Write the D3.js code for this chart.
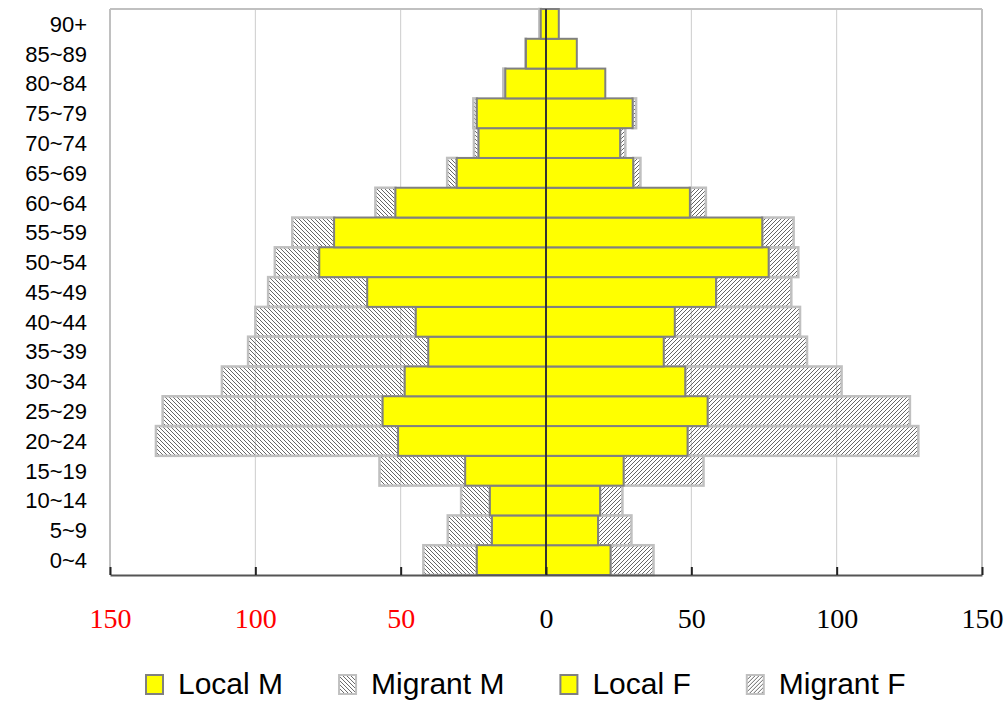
<!DOCTYPE html>
<html>
<head>
<meta charset="utf-8">
<script src="https://cdn.jsdelivr.net/npm/d3@7"></script>
<style>
  body { margin: 0; background: #fff; }
  svg { display: block; }
</style>
</head>
<body>
<div id="chart"></div>
<script>
// age groups, bottom to top
const ages = ["0~4", "5~9", "10~14", "15~19", "20~24", "25~29", "30~34", "35~39", "40~44",
              "45~49", "50~54", "55~59", "60~64", "65~69", "70~74", "75~79", "80~84", "85~89", "90+"];

const localM   = [23.8, 18.6, 19.3, 27.8, 50.9, 56.2, 48.6, 40.5, 44.8, 61.5, 78.0, 72.9, 51.8, 30.7, 23.2, 23.8, 14.0, 6.9, 1.8];
const migrantM = [18.4, 15.2,  9.9, 29.5, 83.3, 75.7, 62.9, 62.0, 55.2, 34.1, 15.3, 14.4,  6.9,  3.3,  1.6,  1.2,  0.7, 0.2, 0.5];
const localF   = [22.2, 17.9, 18.6, 26.7, 48.7, 55.6, 47.9, 40.5, 44.3, 58.5, 76.6, 74.4, 49.5, 30.0, 25.5, 29.8, 20.4, 10.6, 4.4];
const migrantF = [14.8, 11.5,  7.7, 27.5, 79.4, 69.6, 53.8, 49.3, 43.1, 25.9, 10.2, 10.8,  5.5,  2.5,  1.8,  1.2,  0.0, 0.0, 0.0];

const xTicks = [-150, -100, -50, 0, 50, 100, 150];
const legendNames = ["Local M", "Migrant M", "Local F", "Migrant F"];

const width = 1007, height = 702;
const plot = {left: 110, right: 982, top: 9, bottom: 575};

const svg = d3.select("#chart").append("svg")
    .attr("width", width)
    .attr("height", height);

// hatch patterns
const defs = svg.append("defs");
defs.append("pattern")
    .attr("id", "hatchM")
    .attr("patternUnits", "userSpaceOnUse")
    .attr("width", 4).attr("height", 4)
  .append("path")
    .attr("d", "M-1,-1 L5,5 M-1,3 L1,5 M3,-1 L5,1")
    .attr("stroke", "#555555")
    .attr("stroke-width", 0.9);
defs.append("pattern")
    .attr("id", "hatchF")
    .attr("patternUnits", "userSpaceOnUse")
    .attr("width", 4).attr("height", 4)
  .append("path")
    .attr("d", "M-1,5 L5,-1 M-1,1 L1,-1 M3,5 L5,3")
    .attr("stroke", "#555555")
    .attr("stroke-width", 0.9);

const x = d3.scaleLinear().domain([-150, 150]).range([plot.left, plot.right]);
const y = d3.scaleBand().domain(ages.slice().reverse()).range([plot.top, plot.bottom]).padding(0);

// grid + frame
svg.append("g").selectAll("line")
  .data(xTicks.filter(d => d !== 0))
  .join("line")
    .attr("x1", d => x(d)).attr("x2", d => x(d))
    .attr("y1", plot.top).attr("y2", plot.bottom)
    .attr("stroke", d => Math.abs(d) === 150 ? "#c0c0c0" : "#cccccc")
    .attr("stroke-width", d => Math.abs(d) === 150 ? 2 : 1);
svg.append("line")
    .attr("x1", plot.left).attr("x2", plot.right)
    .attr("y1", plot.top).attr("y2", plot.top)
    .attr("stroke", "#c0c0c0").attr("stroke-width", 2);

const rows = ages.map((a, i) => ({age: a, lm: localM[i], mm: migrantM[i], lf: localF[i], mf: migrantF[i]}));

// migrant bars (stacked outside the local bars)
svg.append("g").selectAll("rect")
  .data(rows.filter(d => d.mm > 0))
  .join("rect")
    .attr("x", d => x(-(d.lm + d.mm)))
    .attr("y", d => y(d.age))
    .attr("width", d => x(0) - x(-d.mm))
    .attr("height", y.bandwidth())
    .attr("fill", "url(#hatchM)")
    .attr("stroke", "#c0c0c0")
    .attr("stroke-width", 2.5);
svg.append("g").selectAll("rect")
  .data(rows.filter(d => d.mf > 0))
  .join("rect")
    .attr("x", d => x(d.lf))
    .attr("y", d => y(d.age))
    .attr("width", d => x(d.mf) - x(0))
    .attr("height", y.bandwidth())
    .attr("fill", "url(#hatchF)")
    .attr("stroke", "#c0c0c0")
    .attr("stroke-width", 2.5);

// local bars
svg.append("g").selectAll("rect")
  .data(rows)
  .join("rect")
    .attr("x", d => x(-d.lm))
    .attr("y", d => y(d.age))
    .attr("width", d => x(0) - x(-d.lm))
    .attr("height", y.bandwidth())
    .attr("fill", "#ffff00")
    .attr("stroke", "#808080")
    .attr("stroke-width", 2);
svg.append("g").selectAll("rect")
  .data(rows)
  .join("rect")
    .attr("x", x(0))
    .attr("y", d => y(d.age))
    .attr("width", d => x(d.lf) - x(0))
    .attr("height", y.bandwidth())
    .attr("fill", "#ffff00")
    .attr("stroke", "#808080")
    .attr("stroke-width", 2);

// centre line
svg.append("line")
    .attr("x1", x(0)).attr("x2", x(0))
    .attr("y1", plot.top).attr("y2", plot.bottom)
    .attr("stroke", "#333333").attr("stroke-width", 2);

// bottom axis
const xAxis = svg.append("g")
    .attr("transform", `translate(0, ${plot.bottom})`)
    .call(d3.axisBottom(x).tickValues(xTicks).tickSizeInner(-8).tickSizeOuter(0).tickFormat(d => Math.abs(d)).tickPadding(33));
xAxis.select(".domain").attr("stroke", "#555555").attr("stroke-width", 2);
xAxis.selectAll(".tick line").attr("stroke", "#222222").attr("stroke-width", 2);
xAxis.selectAll(".tick text")
    .attr("font-family", "'Liberation Serif', 'DejaVu Serif', serif")
    .attr("font-size", 28)
    .attr("fill", d => d < 0 ? "#ff0000" : "#000000");

// age labels
svg.append("g").selectAll("text")
  .data(ages)
  .join("text")
    .attr("x", 87)
    .attr("y", d => y(d) + y.bandwidth() / 2)
    .attr("dy", "0.36em")
    .attr("text-anchor", "end")
    .attr("font-family", "'Liberation Sans', Arial, sans-serif")
    .attr("font-size", 22)
    .attr("fill", "#000")
    .text(d => d);

// legend
const legendFill = ["#ffff00", "url(#hatchM)", "#ffff00", "url(#hatchF)"];
const legendStroke = ["#808080", "#c0c0c0", "#808080", "#c0c0c0"];
let lx = 146;
legendNames.forEach((name, i) => {
  const g = svg.append("g").attr("transform", `translate(${lx}, 0)`);
  g.append("rect")
      .attr("x", 0).attr("y", 675)
      .attr("width", 17).attr("height", 19)
      .attr("fill", legendFill[i])
      .attr("stroke", legendStroke[i])
      .attr("stroke-width", 2);
  const t = g.append("text")
      .attr("x", 32).attr("y", 694)
      .attr("font-family", "'Liberation Sans', Arial, sans-serif")
      .attr("font-size", 30)
      .attr("fill", "#000")
      .text(name);
  lx += 32 + t.node().getComputedTextLength() + 56;
});
</script>
</body>
</html>
